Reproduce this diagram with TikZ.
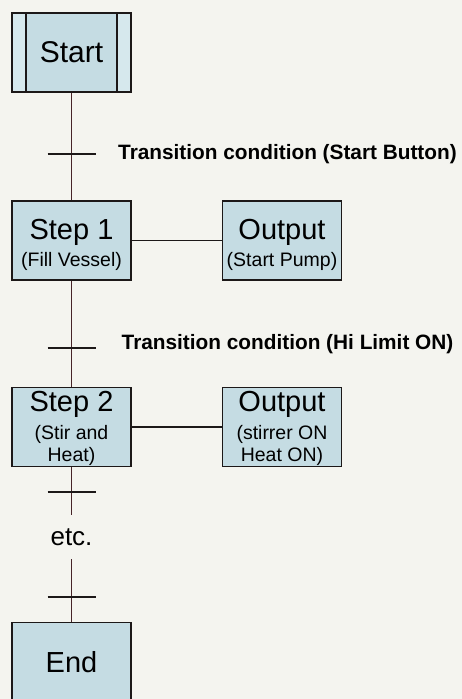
\documentclass[tikz,border=0pt]{standalone}
\usepackage{fontspec}
\setmainfont{Liberation Sans}
\definecolor{sfcblue}{RGB}{197,220,227}
\definecolor{sfcstrip}{RGB}{214,232,237}
\definecolor{sfcpaper}{RGB}{244,244,239}
\definecolor{sfcink}{RGB}{28,24,24}
\definecolor{sfcrailc}{RGB}{70,36,40}
\usetikzlibrary{positioning}
\newcommand{\sfchead}[2][29pt]{{\fontsize{29}{29}\selectfont\rule{0pt}{#1}#2}}

\begin{document}
\begin{tikzpicture}[x=1pt,y=-1pt,
  sfcstep/.style={draw=sfcink,line width=1.8pt,fill=sfcblue,minimum width=119pt,minimum height=79pt,
    inner sep=0pt,align=center,font=\fontsize{19.5}{22.5}\selectfont},
  sfclink/.style={draw=sfcink,line width=1.6pt},
  sfcrail/.style={draw=sfcrailc,line width=1.1pt},
  sfcbar/.style={draw=sfcink,line width=1.8pt},
  sfccond/.style={anchor=base west,inner sep=0pt,font=\bfseries\fontsize{20.8}{25}\selectfont}
]
  \clip (0,0) rectangle (462,699);
  \fill[sfcpaper] (0,0) rectangle (462,699);
  % Initial step (double side lines)
  \node[sfcstep,path picture={
      \fill[sfcstrip] (path picture bounding box.north west) rectangle ([xshift=14pt]path picture bounding box.south west);
      \fill[sfcstrip] (path picture bounding box.north east) rectangle ([xshift=-14pt]path picture bounding box.south east);
      \draw[sfcink,line width=1.6pt] ([xshift=14pt]path picture bounding box.north west) -- ([xshift=14pt]path picture bounding box.south west);
      \draw[sfcink,line width=1.6pt] ([xshift=-14pt]path picture bounding box.north east) -- ([xshift=-14pt]path picture bounding box.south east);
    }] (start) at (71.5,52.5) {\fontsize{30}{30}\selectfont Start};
  % Steps and their outputs
  \node[sfcstep] (step1) at (71.5,240.5) {\sfchead{Step 1}\\[4pt](Fill Vessel)};
  \node[sfcstep] (out1) at (282,240.5) {\sfchead{Output}\\[4pt](Start Pump)};
  \node[sfcstep] (step2) at (71.5,427) {\sfchead[24pt]{Step 2}\\[5pt](Stir and\\Heat)};
  \node[sfcstep] (out2) at (282,427) {\sfchead[24pt]{Output}\\[5pt](stirrer ON\\Heat ON)};
  \node[inner sep=0pt,minimum height=44pt,font=\fontsize{26}{26}\selectfont] (etc) at (71.5,537) {etc.};
  \node[sfcstep] (end) at (71.5,662) {\fontsize{29}{29}\selectfont End};
  % Vertical rail
  \draw[sfcrail] (start) -- (step1);
  \draw[sfcrail] (step1) -- (step2);
  \draw[sfcrail] (step2) -- (etc);
  \draw[sfcrail] (etc) -- (end);
  % Step to output links
  \draw[sfclink] (step1) -- (out1);
  \draw[sfclink] (step2) -- (out2);
  % Transition bars
  \coordinate (t1) at (71.5,154);
  \coordinate (t2) at (71.5,348);
  \coordinate (t3) at (71.5,492);
  \coordinate (t4) at (71.5,597);
  \foreach \t in {t1,t2,t3,t4}
    \draw[sfcbar] ([xshift=-24pt]\t) -- ([xshift=24pt]\t);
  % Transition conditions
  \node[sfccond] (cond1) at (118,159.5) {Transition condition (Start Button)};
  \node[sfccond] (cond2) at (121.5,349.3) {Transition condition (Hi Limit ON)};
\end{tikzpicture}
\end{document}
